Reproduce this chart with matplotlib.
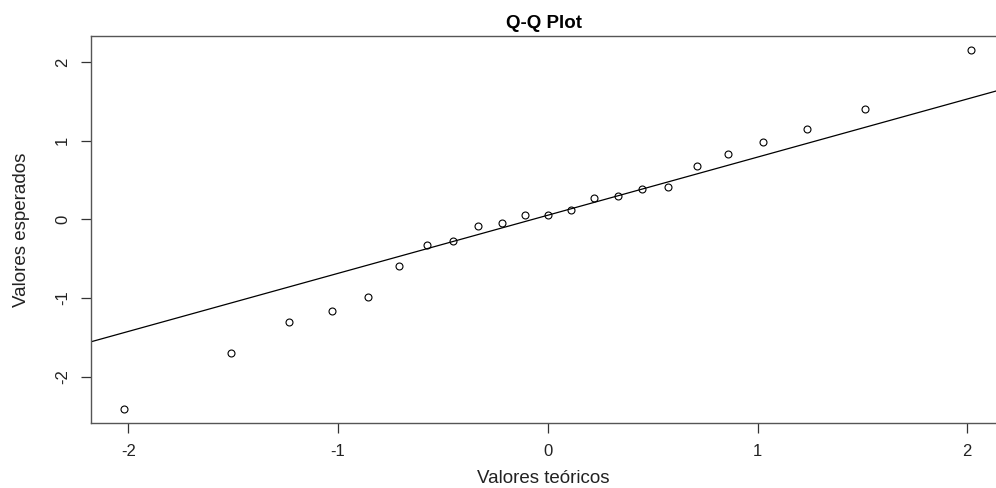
import numpy as np
import matplotlib
matplotlib.use("Agg")
import matplotlib.pyplot as plt

# theoretical normal quantiles (n = 23) and observed sample values
teoricos = [-2.019, -1.512, -1.234, -1.027, -0.857, -0.709, -0.575, -0.451,
            -0.333, -0.220, -0.109, 0.000, 0.109, 0.220, 0.333, 0.451,
            0.575, 0.709, 0.857, 1.027, 1.234, 1.512, 2.019]
esperados = [-2.41, -1.70, -1.30, -1.16, -0.99, -0.59, -0.32, -0.27,
             -0.08, -0.05, 0.06, 0.06, 0.12, 0.27, 0.30, 0.38,
             0.41, 0.68, 0.83, 0.98, 1.15, 1.40, 2.15]

# reference line (intercept, slope)
linea_a = 0.052
linea_b = 0.738

ticks = [-2, -1, 0, 1, 2]

plt.rcParams['font.family'] = ['Liberation Sans', 'DejaVu Sans']
plt.rcParams['axes.unicode_minus'] = False

fig = plt.figure(figsize=(9.96, 4.88), dpi=100)
ax = fig.add_axes([0.0914, 0.1332, 0.9086, 0.793])

ax.plot(teoricos, esperados, 'o', mfc='none', mec='black', ms=5, mew=0.8)

xlim = (-2.178, 2.137)
ax.set_xlim(xlim)
ax.set_ylim(-2.587, 2.328)
xs = np.array(xlim)
ax.plot(xs, linea_a + linea_b * xs, color='black', lw=0.9)

ax.set_xticks(ticks)
ax.set_yticks(ticks)
ax.set_yticklabels([str(t) for t in ticks], rotation=90, va='center')
ax.tick_params(direction='out', length=7, width=0.9, colors='#333333',
               labelsize=12, labelcolor='#222222', pad=8)

for side in ['left', 'top', 'bottom']:
    ax.spines[side].set_color('#555555')
    ax.spines[side].set_linewidth(1.0)
ax.spines['right'].set_visible(False)

ax.set_xlabel('Valores teóricos', fontsize=13.5, labelpad=8, color='#222222')
ax.set_ylabel('Valores esperados', fontsize=13.5, labelpad=18, color='#222222')
ax.set_title('Q-Q Plot', fontsize=13.5, fontweight='bold', pad=6)

fig.savefig('out.png', dpi=100)
